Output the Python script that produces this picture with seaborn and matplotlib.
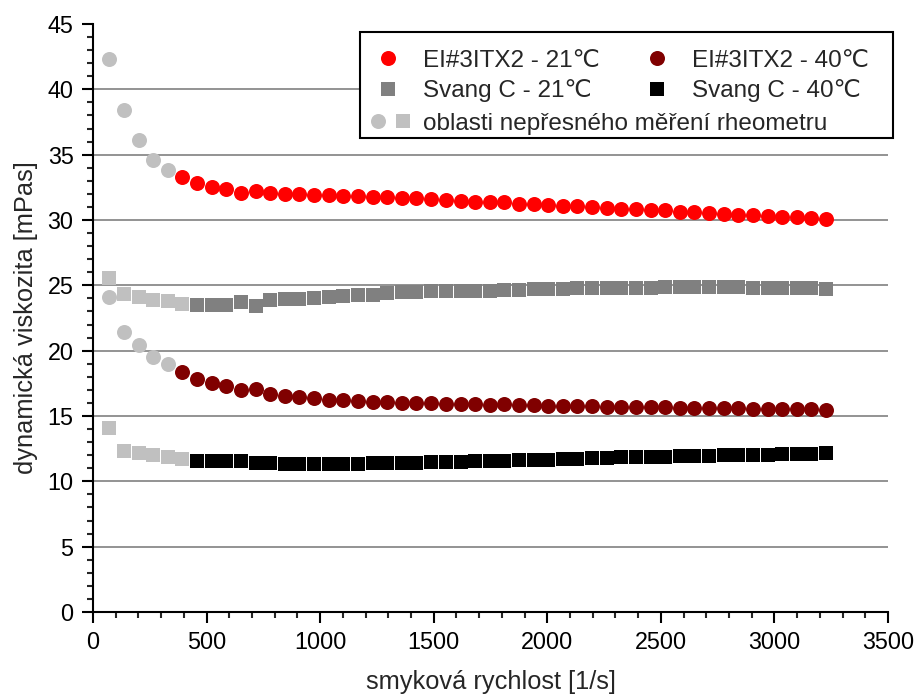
import matplotlib
matplotlib.use("Agg")
import matplotlib.pyplot as plt
import seaborn as sns
import pandas as pd
from matplotlib.lines import Line2D
from matplotlib.patches import Rectangle
from matplotlib.legend_handler import HandlerTuple
from matplotlib.ticker import MultipleLocator

# ---------------- data ----------------
shear_rate = [72, 136, 201, 265, 330, 394, 458, 523, 587, 652,
              716, 780, 845, 909, 974, 1038, 1102, 1167, 1231, 1296,
              1360, 1424, 1489, 1553, 1618, 1682, 1746, 1811, 1875, 1940,
              2004, 2068, 2133, 2197, 2262, 2326, 2390, 2455, 2519, 2584,
              2648, 2712, 2777, 2841, 2906, 2970, 3034, 3099, 3163, 3228]

ei_21 = [42.3, 38.4, 36.1, 34.6, 33.85,
         33.27, 32.8, 32.5, 32.4, 32.1, 32.25, 32.07, 32.0, 32.0, 31.9,
         31.9, 31.84, 31.8, 31.75, 31.75, 31.65, 31.65, 31.6, 31.5, 31.43,
         31.38, 31.35, 31.35, 31.25, 31.2, 31.12, 31.07, 31.05, 31.02, 30.92,
         30.84, 30.82, 30.74, 30.74, 30.64, 30.64, 30.54, 30.48, 30.41, 30.38,
         30.33, 30.25, 30.23, 30.15, 30.05]
ei_21_inaccurate = 5

ei_40 = [24.08, 21.4, 20.43, 19.49, 18.96,
         18.34, 17.86, 17.55, 17.27, 16.99, 17.09, 16.66, 16.55, 16.45, 16.35,
         16.25, 16.2, 16.12, 16.07, 16.07, 16.02, 16.0, 15.97, 15.93, 15.91,
         15.9, 15.87, 15.9, 15.82, 15.82, 15.77, 15.77, 15.74, 15.74, 15.67,
         15.67, 15.67, 15.67, 15.67, 15.59, 15.59, 15.59, 15.59, 15.59, 15.54,
         15.54, 15.54, 15.51, 15.51, 15.46]
ei_40_inaccurate = 5

svang_21 = [25.56, 24.3, 24.1, 23.9, 23.78, 23.57,
            23.52, 23.5, 23.5, 23.7, 23.45, 23.85, 23.95, 23.97, 24.03,
            24.1, 24.16, 24.24, 24.28, 24.4, 24.5, 24.52, 24.54, 24.56, 24.57,
            24.6, 24.6, 24.62, 24.68, 24.7, 24.72, 24.74, 24.78, 24.8, 24.8,
            24.82, 24.82, 24.83, 24.84, 24.9, 24.86, 24.85, 24.84, 24.84, 24.83,
            24.82, 24.8, 24.8, 24.78, 24.72]
svang_21_inaccurate = 6

svang_40 = [14.06, 12.35, 12.14, 12.02, 11.84, 11.69,
            11.58, 11.55, 11.53, 11.52, 11.4, 11.38, 11.36, 11.33, 11.33,
            11.34, 11.33, 11.36, 11.37, 11.4, 11.42, 11.44, 11.46, 11.48, 11.5,
            11.53, 11.55, 11.58, 11.6, 11.62, 11.65, 11.7, 11.74, 11.78, 11.8,
            11.83, 11.86, 11.88, 11.9, 11.93, 11.95, 11.96, 11.98, 12.0, 12.02,
            12.05, 12.07, 12.1, 12.12, 12.18]
svang_40_inaccurate = 6

labels = ["EI#3ITX2 - 21℃", "EI#3ITX2 - 40℃", "Svang C - 21℃", "Svang C - 40℃"]
inaccurate_label = "oblasti nepřesného měření rheometru"
x_label = "smyková rychlost [1/s]"
y_label = "dynamická viskozita [mPas]"

# ---------------- style ----------------
sns.set_style("white")
plt.rcParams["font.family"] = ["Liberation Sans", "DejaVu Sans"]
FS_TICK = 16.8
FS_LEG = 17.5
FS_LAB = 18.3

C_RED = "#ff0000"
C_DRED = "#800000"
C_GRAY = "#808080"
C_BLACK = "#000000"
C_LIGHT = "#c0c0c0"

DPI = 100
fig = plt.figure(figsize=(9.15, 6.96), dpi=DPI)
ax = fig.add_axes([93 / 915, 84 / 696, 795 / 915, 588 / 696])

CIRC_MS = 10.8
SQ_MS = 9.6

series = [
    (ei_21, ei_21_inaccurate, C_RED, "o", CIRC_MS ** 2),
    (ei_40, ei_40_inaccurate, C_DRED, "o", CIRC_MS ** 2),
    (svang_21, svang_21_inaccurate, C_GRAY, "s", SQ_MS ** 2),
    (svang_40, svang_40_inaccurate, C_BLACK, "s", SQ_MS ** 2),
]

for vals, n_bad, col, mk, sz in series:
    df = pd.DataFrame({"x": shear_rate, "y": vals})
    bad = df.iloc[:n_bad]
    good = df.iloc[n_bad:]
    sns.scatterplot(data=bad, x="x", y="y", ax=ax, color=C_LIGHT, marker=mk,
                    s=sz, linewidth=0, zorder=3, legend=False)
    sns.scatterplot(data=good, x="x", y="y", ax=ax, color=col, marker=mk,
                    s=sz, linewidth=0, zorder=3, legend=False)

# axes
ax.set_xlim(0, 3500)
ax.set_ylim(0, 45)
ax.xaxis.set_major_locator(MultipleLocator(500))
ax.xaxis.set_minor_locator(MultipleLocator(100))
ax.yaxis.set_major_locator(MultipleLocator(5))
ax.yaxis.set_minor_locator(MultipleLocator(1))
ax.tick_params(which="major", direction="out", length=8, width=1.5,
               labelsize=FS_TICK, pad=6, bottom=True, left=True, colors="black")
ax.tick_params(which="minor", direction="out", length=4, width=1.5,
               bottom=True, left=True)
for side in ["top", "right"]:
    ax.spines[side].set_visible(False)
for side in ["left", "bottom"]:
    ax.spines[side].set_linewidth(1.5)
    ax.spines[side].set_color("black")

for yv in range(5, 45, 5):
    ax.axhline(yv, color=C_GRAY, linewidth=1.2, zorder=1)

ax.set_xlabel(x_label, fontsize=FS_LAB, labelpad=11)
ax.set_ylabel(y_label, fontsize=FS_LAB, labelpad=7)

# legend frame
frame = Rectangle((360 / 915, (696 - 138) / 696), 533 / 915, 106 / 696,
                  transform=fig.transFigure, facecolor="white",
                  edgecolor="black", linewidth=1.5, zorder=4, clip_on=False)
ax.add_patch(frame)

handles = [
    Line2D([], [], linestyle="none", marker="o", markersize=CIRC_MS,
           markerfacecolor=C_RED, markeredgewidth=0),
    Line2D([], [], linestyle="none", marker="s", markersize=SQ_MS,
           markerfacecolor=C_GRAY, markeredgewidth=0),
    Line2D([], [], linestyle="none", marker="o", markersize=CIRC_MS,
           markerfacecolor=C_DRED, markeredgewidth=0),
    Line2D([], [], linestyle="none", marker="s", markersize=SQ_MS,
           markerfacecolor=C_BLACK, markeredgewidth=0),
]
leg_labels = [labels[0], labels[2], labels[1], labels[3]]

em_px = FS_LEG * DPI / 72.0
# measure width of column-1 labels to place column 2 where it belongs
renderer = fig.canvas.get_renderer()
w = 0
for lab in leg_labels[:2]:
    t = fig.text(0, 0, lab, fontsize=FS_LEG)
    w = max(w, t.get_window_extent(renderer).width)
    t.remove()
col1_handle_start = 388.3 - em_px / 2
col1_text_start = 423.3
col2_handle_start = 656.7 - em_px / 2
colspacing = (col2_handle_start - (col1_text_start + w)) / em_px
textpad = (col1_text_start - col1_handle_start - em_px) / em_px

leg1 = ax.legend(handles, leg_labels, ncol=2, frameon=False, fontsize=FS_LEG,
                 loc="upper left",
                 bbox_to_anchor=(col1_handle_start / 915, (696 - 49.5) / 696),
                 bbox_transform=fig.transFigure, borderpad=0, borderaxespad=0,
                 handlelength=1.0, handletextpad=textpad,
                 columnspacing=colspacing, labelspacing=0.33)
ax.add_artist(leg1)

h_c = Line2D([], [], linestyle="none", marker="o", markersize=CIRC_MS,
             markerfacecolor=C_LIGHT, markeredgewidth=0)
h_s = Line2D([], [], linestyle="none", marker="s", markersize=SQ_MS,
             markerfacecolor=C_LIGHT, markeredgewidth=0)
leg2_start = 378.3 - em_px / 2
leg2_pad = (423.3 - leg2_start - 2 * em_px) / em_px
leg2 = ax.legend([(h_c, h_s)], [inaccurate_label], frameon=False, fontsize=FS_LEG,
                 loc="upper left",
                 bbox_to_anchor=(leg2_start / 915, (696 - 112.5) / 696),
                 bbox_transform=fig.transFigure, borderpad=0, borderaxespad=0,
                 handlelength=2.0, handletextpad=leg2_pad,
                 handler_map={tuple: HandlerTuple(ndivide=None, pad=0)})

fig.savefig("out.png", dpi=DPI)
